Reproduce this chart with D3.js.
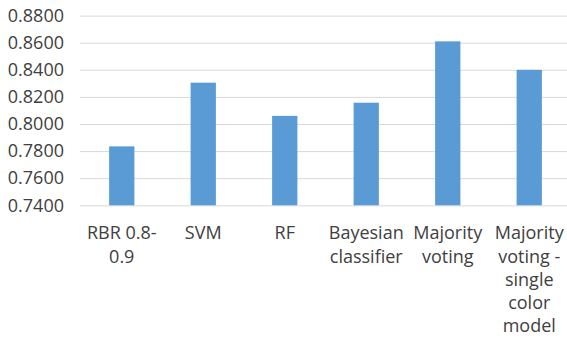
<!DOCTYPE html>
<html>
<head>
<meta charset="utf-8">
<script src="https://cdn.jsdelivr.net/npm/d3@7"></script>
<style>
  html, body { margin: 0; padding: 0; background: #fff; }
  svg { display: block; }
  text { font-family: "Open Sans", sans-serif; fill: #404040; }
</style>
</head>
<body>
<script>
// Accuracy of each classifier
const categories = [
  ["RBR 0.8-", "0.9"],
  ["SVM"],
  ["RF"],
  ["Bayesian", "classifier"],
  ["Majority", "voting"],
  ["Majority", "voting -", "single", "color", "model"]
];
const values = [0.7835, 0.8305, 0.8060, 0.8157, 0.8610, 0.8400];
const yTicks = [0.74, 0.76, 0.78, 0.80, 0.82, 0.84, 0.86, 0.88];

const width = 567, height = 340;
const svg = d3.select("body").append("svg")
  .attr("width", width).attr("height", height);

const x = d3.scaleBand()
  .domain(d3.range(categories.length))
  .range([81, 570])
  .paddingInner(0.69)
  .paddingOuter(0.345);

const y = d3.scaleLinear()
  .domain([0.74, 0.88])
  .range([205.3, 15.6]);

// Horizontal gridlines with tick labels
const yAxis = d3.axisLeft(y)
  .tickValues(yTicks)
  .tickFormat(d3.format(".4f"))
  .tickSize(-(570 - 80))
  .tickPadding(16);

const gy = svg.append("g")
  .attr("transform", "translate(80,0)")
  .call(yAxis);
gy.select(".domain").remove();
gy.selectAll(".tick line").attr("stroke", "#d9d9d9").attr("stroke-width", 1);
gy.selectAll(".tick text")
  .attr("font-size", 18)
  .attr("fill", "#404040")
  .attr("font-family", "'Open Sans', sans-serif");

// Bars
svg.append("g").selectAll("rect")
  .data(values)
  .join("rect")
  .attr("x", (d, i) => x(i))
  .attr("width", x.bandwidth())
  .attr("y", d => y(d))
  .attr("height", d => y(0.74) - y(d))
  .attr("fill", "#5b9bd5");

// Category labels, wrapped onto several lines
const labels = svg.append("g").selectAll("text")
  .data(categories)
  .join("text")
  .attr("text-anchor", "middle")
  .attr("font-size", 18)
  .attr("y", 239.3);
labels.each(function (lines, i) {
  d3.select(this).selectAll("tspan")
    .data(lines)
    .join("tspan")
    .attr("x", x(i) + x.bandwidth() / 2)
    .attr("dy", (d, j) => j === 0 ? 0 : 23.2)
    .text(d => d);
});
</script>
</body>
</html>
